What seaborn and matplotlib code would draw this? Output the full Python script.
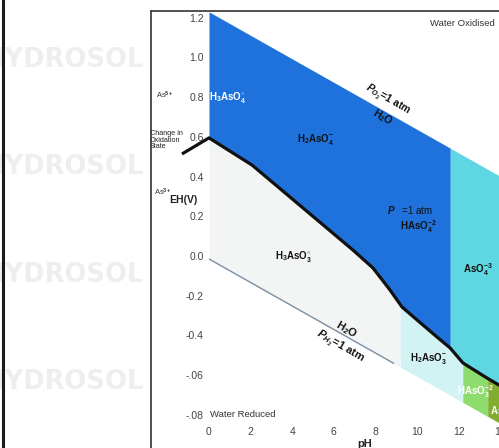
import numpy as np
import pandas as pd
import matplotlib
matplotlib.use("Agg")
import matplotlib.pyplot as plt
import seaborn as sns

# ---------------- data ----------------
# water stability lines (pH, E in V)
o2_ph = [0.0, 15.0]
o2_e = [1.23, 0.342]
h2_ph = [0.0, 15.0]
h2_e = [-0.015, -0.903]
h2_drawn_ph = [0.0, 8.9]

# As(V) / As(III) boundary (thick black line)
redox_ph = [-1.30, 0.0, 2.07, 6.92, 7.88, 8.70, 9.28, 10.0, 10.96, 11.59, 12.21, 13.37, 13.94, 14.6]
redox_e = [0.514, 0.595, 0.458, 0.030, -0.060, -0.171, -0.257, -0.322, -0.408, -0.463, -0.539, -0.615, -0.650, -0.690]

# As(V) fields (above black line)
as5_edges = [0.0, 11.6, 15.0]
as5_colors = ["#1f72dc", "#5ed7e3"]
# As(III) fields (below black line)
as3_edges = [0.0, 9.2, 12.2, 13.4, 15.0]
as3_colors = ["#f3f5f5", "#d3f2f4", "#8fdc6e", "#80ad2e"]

# species labels: text, pH, E, colour
species_text = [r"H$_3$AsO$_4^{\circ}$", r"H$_2$AsO$_4^{-}$", r"HAsO$_4^{-2}$", r"AsO$_4^{-3}$",
                r"H$_3$AsO$_3^{\circ}$", r"H$_2$AsO$_3^{-}$", r"HAsO$_3^{-2}$", r"AsO$_3^{-3}$"]
species_ph = [0.91, 5.10, 10.05, 12.93, 4.04, 10.53, 12.79, 13.51]
species_e = [0.796, 0.589, 0.146, -0.071, -0.005, -0.514, -0.685, -0.786]
species_col = ["white", "#111", "#111", "#111", "#111", "#111", "white", "white"]
species_ha = ["center"] * 7 + ["left"]

xticks = [0, 2, 4, 6, 8, 10, 12, 14]
xtick_labels = ["0", "2", "4", "6", "8", "10", "12", "14"]
yticks = [1.2, 1.0, 0.8, 0.6, 0.4, 0.2, 0.0, -0.2, -0.4, -0.6, -0.8]
ytick_labels = ["1.2", "1.0", "0.8", "0.6", "0.4", "0.2", "0.0", "-0.2", "-0.4", "-.06", "-.08"]

# ---------------- style ----------------
sns.set_theme(style="white")
plt.rcParams["font.family"] = ["Liberation Sans", "DejaVu Sans"]
plt.rcParams["mathtext.fontset"] = "custom"
plt.rcParams["mathtext.rm"] = "Liberation Sans:bold"
plt.rcParams["mathtext.it"] = "Liberation Sans:italic:bold"
plt.rcParams["mathtext.bf"] = "Liberation Sans:bold"

fig = plt.figure(figsize=(4.99, 4.48), dpi=100)
fig.patch.set_facecolor("white")
W, H = 499.0, 448.0
left_px, top_px, right_px, bot_px = 151, 11, 520, 470
ax = fig.add_axes([left_px / W, 1 - bot_px / H, (right_px - left_px) / W, (bot_px - top_px) / H])
ax.set_xlim((left_px - 209) / 20.8, (right_px - 209) / 20.8)
ax.set_ylim((256 - bot_px) / 198.5, (256 - top_px) / 198.5)
ax.set_facecolor("white")

# watermarks (drawn beneath the axes)
for yy in [60, 167, 275, 382]:
    fig.text(-16 / W, 1 - yy / H, "HYDROSOL", fontsize=18.5, fontweight="bold",
             color="#eeeeee", va="center", ha="left", family="DejaVu Sans", zorder=-1)
fig.text(330 / W, 1 + 9 / H, "HYDROSOL", fontsize=23, fontweight="bold",
         color="#fbf7cc", va="center", ha="left", family="DejaVu Sans", zorder=-1)

# fields
def fill_fields(edges, colors, upper_fn, lower_fn):
    for a, b, c in zip(edges[:-1], edges[1:], colors):
        ph = np.linspace(a, b, 200)
        ax.fill_between(ph, lower_fn(ph), upper_fn(ph), color=c, lw=0, zorder=1)

fill_fields(as5_edges, as5_colors,
            lambda p: np.interp(p, o2_ph, o2_e),
            lambda p: np.interp(p, redox_ph, redox_e))
fill_fields(as3_edges, as3_colors,
            lambda p: np.interp(p, redox_ph, redox_e),
            lambda p: np.interp(p, h2_ph, h2_e))

# lines
h2_df = pd.DataFrame({"pH": h2_drawn_ph, "E": np.interp(h2_drawn_ph, h2_ph, h2_e)})
sns.lineplot(data=h2_df, x="pH", y="E", ax=ax, color="#7a8ea2", lw=1.0, zorder=2)
redox_df = pd.DataFrame({"pH": redox_ph, "E": redox_e})
sns.lineplot(data=redox_df, x="pH", y="E", ax=ax, color="#111111", lw=2.3,
             zorder=3, sort=False)
for l in ax.lines:
    l.set_clip_on(False)
    l.set_solid_capstyle("butt")

# species labels
for t, x, y, c, ha in zip(species_text, species_ph, species_e, species_col, species_ha):
    ax.text(x, y, t, color=c, fontsize=7, fontweight="bold", ha=ha, va="center", zorder=4)
ax.text(9.66, 0.232, r"$P$   =1 atm", color="#111", fontsize=7, ha="center", va="center", zorder=4)

# rotated water-line labels
rot = -30
ax.text(8.61, 0.786, r"$P_{O_2}$=1 atm", fontsize=7.5, fontweight="bold", rotation=rot,
        rotation_mode="anchor", ha="center", va="center", color="#111", zorder=4)
ax.text(8.37, 0.700, r"H$_2$O", fontsize=7.5, fontweight="bold", rotation=rot,
        rotation_mode="anchor", ha="center", va="center", color="#111", zorder=4)
ax.text(6.63, -0.373, r"H$_2$O", fontsize=8, fontweight="bold", rotation=rot,
        rotation_mode="anchor", ha="center", va="center", color="#111", zorder=4)
ax.text(6.30, -0.458, r"$P_{H_2}$=1 atm", fontsize=8, fontweight="bold", rotation=rot,
        rotation_mode="anchor", ha="center", va="center", color="#111", zorder=4)

# other annotations
ax.text(12.16, 1.169, "Water Oxidised", fontsize=6.8, color="#333", ha="center", va="center")
ax.text(0.05, -0.80, "Water Reduced", fontsize=6.8, color="#333", ha="left", va="center")
ax.text(7.5, -0.945, "pH", fontsize=8, fontweight="bold", color="#222", ha="center", va="center")
ax.text(-1.25, 0.282, "EH(V)", fontsize=7.5, fontweight="bold", color="#222", ha="center", va="center")
ax.text(-2.12, 0.81, r"As$^{5+}$", fontsize=5.5, color="#333", ha="center", va="center")
ax.text(-2.20, 0.322, r"As$^{3+}$", fontsize=5.5, color="#333", ha="center", va="center")
ax.text(-2.84, 0.635, "Change in\nOxidation\nState", fontsize=5.2, color="#222",
        ha="left", va="top", linespacing=0.95, clip_on=False)

# ticks
ax.set_xticks(xticks)
ax.set_xticklabels(xtick_labels)
ax.set_yticks(yticks)
ax.set_yticklabels(ytick_labels)
ax.tick_params(axis="x", length=0, pad=-31, labelsize=7.5, labelcolor="#444")
ax.tick_params(axis="y", length=0, pad=-38, labelsize=7.5, labelcolor="#444")
ax.set_xlabel("")
ax.set_ylabel("")
ax.grid(False)

for s in ["right", "bottom"]:
    ax.spines[s].set_visible(False)
for s in ["left", "top"]:
    ax.spines[s].set_color("#333")
    ax.spines[s].set_linewidth(1.2)
    ax.spines[s].set_zorder(5)

# scan border at left edge of the picture
fig.add_artist(plt.Line2D([2.5 / W, 2.5 / W], [0, 1], transform=fig.transFigure,
                          color="#1a1a1a", lw=2.2))

fig.savefig("out.png", dpi=100, facecolor="white")
